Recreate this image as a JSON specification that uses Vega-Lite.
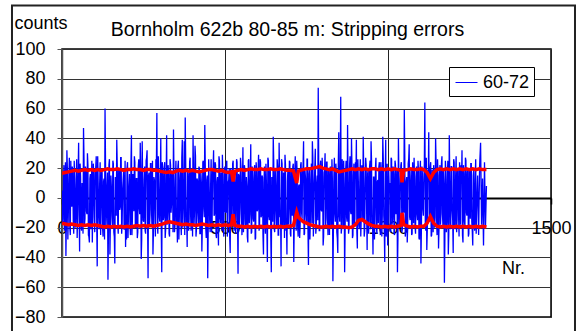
{
  "$schema": "https://vega.github.io/schema/vega-lite/v6.json",
  "autosize": "none",
  "width": 489,
  "height": 268,
  "padding": {"left": 62, "top": 49, "right": 26, "bottom": 14},
  "background": "white",
  "title": {"text": "Bornholm 622b 80-85 m: Stripping errors", "anchor": "middle", "frame": "group", "dx": -19, "offset": -23, "dy": 28, "baseline": "alphabetic", "fontSize": 19.5, "font": "Liberation Sans", "fontWeight": "normal", "color": "black"},
  "config": {
    "font": "Liberation Sans",
    "view": {"stroke": "black", "strokeWidth": 1.5},
    "axis": {"labelFont": "Liberation Sans", "titleFont": "Liberation Sans", "labelFontSize": 18, "titleFontSize": 18, "labelColor": "black", "titleColor": "black", "titleFontWeight": "normal"}
  },
  "datasets": {
    "blue": [
{"n":0,"v":5},{"n":3,"v":-14},{"n":6,"v":22},{"n":9,"v":-8},{"n":12,"v":-39},{"n":15,"v":32},{"n":18,"v":-28},{"n":21,"v":12},{"n":24,"v":-20},{"n":27,"v":25},
{"n":30,"v":-6},{"n":33,"v":18},{"n":36,"v":-24},{"n":39,"v":9},{"n":42,"v":-16},{"n":45,"v":26},{"n":48,"v":-11},{"n":51,"v":37},{"n":54,"v":-36},{"n":57,"v":14},
{"n":60,"v":-22},{"n":63,"v":7},{"n":66,"v":47},{"n":69,"v":-18},{"n":72,"v":21},{"n":75,"v":-9},{"n":78,"v":30},{"n":81,"v":-25},{"n":84,"v":-30},{"n":87,"v":16},
{"n":90,"v":4},{"n":93,"v":-30},{"n":96,"v":23},{"n":99,"v":-13},{"n":102,"v":19},{"n":105,"v":28},{"n":108,"v":-46},{"n":111,"v":10},{"n":114,"v":-21},{"n":117,"v":24},
{"n":120,"v":-5},{"n":123,"v":17},{"n":126,"v":-26},{"n":129,"v":13},{"n":132,"v":60},{"n":135,"v":-19},{"n":138,"v":8},{"n":141,"v":-55},{"n":144,"v":22},{"n":147,"v":-38},
{"n":150,"v":15},{"n":153,"v":-12},{"n":156,"v":25},{"n":159,"v":-23},{"n":162,"v":-44},{"n":165,"v":11},{"n":168,"v":39},{"n":171,"v":-17},{"n":174,"v":20},{"n":177,"v":-8},
{"n":180,"v":27},{"n":183,"v":-24},{"n":186,"v":6},{"n":189,"v":18},{"n":192,"v":-21},{"n":195,"v":-33},{"n":198,"v":-28},{"n":201,"v":24},{"n":204,"v":-10},{"n":207,"v":16},
{"n":210,"v":-25},{"n":213,"v":42},{"n":216,"v":-14},{"n":219,"v":9},{"n":222,"v":28},{"n":225,"v":-20},{"n":228,"v":13},{"n":231,"v":-27},{"n":234,"v":21},{"n":237,"v":-7},
{"n":240,"v":37},{"n":243,"v":-41},{"n":246,"v":38},{"n":249,"v":-15},{"n":252,"v":12},{"n":255,"v":-22},{"n":258,"v":25},{"n":261,"v":32},{"n":264,"v":-54},{"n":267,"v":17},
{"n":270,"v":-11},{"n":273,"v":23},{"n":276,"v":-19},{"n":279,"v":-38},{"n":282,"v":14},{"n":285,"v":-6},{"n":288,"v":26},{"n":291,"v":57},{"n":294,"v":-24},{"n":297,"v":10},
{"n":300,"v":-16},{"n":303,"v":40},{"n":306,"v":-50},{"n":309,"v":19},{"n":312,"v":-13},{"n":315,"v":24},{"n":318,"v":-21},{"n":321,"v":42},{"n":324,"v":-9},{"n":327,"v":15},
{"n":330,"v":-26},{"n":333,"v":22},{"n":336,"v":-4},{"n":339,"v":18},{"n":342,"v":46},{"n":345,"v":-23},{"n":348,"v":11},{"n":351,"v":-17},{"n":354,"v":-30},{"n":357,"v":25},
{"n":360,"v":-12},{"n":363,"v":20},{"n":366,"v":-25},{"n":369,"v":39},{"n":372,"v":-8},{"n":375,"v":38},{"n":378,"v":54},{"n":381,"v":-19},{"n":384,"v":-33},{"n":387,"v":16},
{"n":390,"v":-14},{"n":393,"v":27},{"n":396,"v":-22},{"n":399,"v":8},{"n":402,"v":42},{"n":405,"v":-18},{"n":408,"v":35},{"n":411,"v":-26},{"n":414,"v":13},{"n":417,"v":-10},
{"n":420,"v":21},{"n":423,"v":-24},{"n":426,"v":17},{"n":429,"v":-36},{"n":432,"v":24},{"n":435,"v":-7},{"n":438,"v":49},{"n":441,"v":-20},{"n":444,"v":12},{"n":447,"v":-54},
{"n":450,"v":26},{"n":453,"v":-15},{"n":456,"v":9},{"n":459,"v":-23},{"n":462,"v":19},{"n":465,"v":32},{"n":468,"v":-11},{"n":471,"v":22},{"n":474,"v":-27},{"n":477,"v":14},
{"n":480,"v":-32},{"n":483,"v":25},{"n":486,"v":-17},{"n":489,"v":7},{"n":492,"v":29},{"n":495,"v":-21},{"n":498,"v":16},{"n":501,"v":-9},{"n":504,"v":23},{"n":507,"v":-26},
{"n":510,"v":11},{"n":513,"v":20},{"n":516,"v":-37},{"n":519,"v":18},{"n":522,"v":-13},{"n":525,"v":25},{"n":528,"v":-22},{"n":531,"v":10},{"n":534,"v":-18},{"n":537,"v":24},
{"n":540,"v":-51},{"n":543,"v":15},{"n":546,"v":-6},{"n":549,"v":21},{"n":552,"v":-25},{"n":555,"v":34},{"n":558,"v":-14},{"n":561,"v":19},{"n":564,"v":-20},{"n":567,"v":8},
{"n":570,"v":-30},{"n":573,"v":26},{"n":576,"v":-11},{"n":579,"v":36},{"n":582,"v":-23},{"n":585,"v":13},{"n":588,"v":-16},{"n":591,"v":22},{"n":594,"v":-27},{"n":597,"v":17},
{"n":600,"v":-8},{"n":603,"v":29},{"n":606,"v":-19},{"n":609,"v":24},{"n":612,"v":-12},{"n":615,"v":14},{"n":618,"v":-38},{"n":621,"v":21},{"n":624,"v":-24},{"n":627,"v":10},
{"n":630,"v":-43},{"n":633,"v":25},{"n":636,"v":-15},{"n":639,"v":18},{"n":642,"v":-50},{"n":645,"v":12},{"n":648,"v":41},{"n":651,"v":-21},{"n":654,"v":20},{"n":657,"v":-9},
{"n":660,"v":26},{"n":663,"v":-25},{"n":666,"v":37},{"n":669,"v":-13},{"n":672,"v":-46},{"n":675,"v":23},{"n":678,"v":-18},{"n":681,"v":15},{"n":684,"v":29},{"n":687,"v":-22},
{"n":690,"v":-38},{"n":693,"v":19},{"n":696,"v":-7},{"n":699,"v":24},{"n":702,"v":-26},{"n":705,"v":11},{"n":708,"v":21},{"n":711,"v":-43},{"n":714,"v":16},{"n":717,"v":-14},
{"n":720,"v":25},{"n":723,"v":-20},{"n":726,"v":8},{"n":729,"v":-27},{"n":732,"v":22},{"n":735,"v":-10},{"n":738,"v":18},{"n":741,"v":38},{"n":744,"v":-24},{"n":747,"v":13},
{"n":750,"v":-17},{"n":753,"v":26},{"n":756,"v":-45},{"n":759,"v":20},{"n":762,"v":-12},{"n":765,"v":23},{"n":768,"v":38},{"n":771,"v":-26},{"n":774,"v":10},{"n":777,"v":33},
{"n":780,"v":-19},{"n":783,"v":15},{"n":786,"v":74},{"n":789,"v":-22},{"n":792,"v":21},{"n":795,"v":-8},{"n":798,"v":27},{"n":801,"v":-32},{"n":804,"v":17},{"n":807,"v":30},
{"n":810,"v":-14},{"n":813,"v":24},{"n":816,"v":-25},{"n":819,"v":9},{"n":822,"v":20},{"n":825,"v":-18},{"n":828,"v":26},{"n":831,"v":-56},{"n":834,"v":14},{"n":837,"v":-11},
{"n":840,"v":23},{"n":843,"v":-23},{"n":846,"v":-37},{"n":849,"v":44},{"n":852,"v":-16},{"n":855,"v":68},{"n":858,"v":-20},{"n":861,"v":12},{"n":864,"v":25},{"n":867,"v":-50},
{"n":870,"v":18},{"n":873,"v":-13},{"n":876,"v":49},{"n":879,"v":-24},{"n":882,"v":21},{"n":885,"v":-9},{"n":888,"v":40},{"n":891,"v":-27},{"n":894,"v":15},{"n":897,"v":-18},
{"n":900,"v":24},{"n":903,"v":39},{"n":906,"v":-34},{"n":909,"v":11},{"n":912,"v":-21},{"n":915,"v":26},{"n":918,"v":-12},{"n":921,"v":17},{"n":924,"v":41},{"n":927,"v":-26},
{"n":930,"v":8},{"n":933,"v":22},{"n":936,"v":-35},{"n":939,"v":19},{"n":942,"v":-15},{"n":945,"v":25},{"n":948,"v":38},{"n":951,"v":-20},{"n":954,"v":-38},{"n":957,"v":14},
{"n":960,"v":-8},{"n":963,"v":27},{"n":966,"v":-24},{"n":969,"v":12},{"n":972,"v":21},{"n":975,"v":-17},{"n":978,"v":24},{"n":981,"v":-26},{"n":984,"v":41},{"n":987,"v":-12},
{"n":990,"v":-43},{"n":993,"v":39},{"n":996,"v":-19},{"n":999,"v":-32},{"n":1002,"v":20},{"n":1005,"v":10},{"n":1008,"v":-23},{"n":1011,"v":26},{"n":1014,"v":-14},{"n":1017,"v":16},
{"n":1020,"v":-25},{"n":1023,"v":22},{"n":1026,"v":-9},{"n":1029,"v":-50},{"n":1032,"v":40},{"n":1035,"v":-18},{"n":1038,"v":13},{"n":1041,"v":24},{"n":1044,"v":-21},{"n":1047,"v":18},
{"n":1050,"v":59},{"n":1053,"v":-26},{"n":1056,"v":11},{"n":1059,"v":-30},{"n":1062,"v":23},{"n":1065,"v":36},{"n":1068,"v":-15},{"n":1071,"v":20},{"n":1074,"v":-24},{"n":1077,"v":9},
{"n":1080,"v":27},{"n":1083,"v":-19},{"n":1086,"v":14},{"n":1089,"v":-11},{"n":1092,"v":25},{"n":1095,"v":-27},{"n":1098,"v":17},{"n":1101,"v":-44},{"n":1104,"v":21},{"n":1107,"v":-8},
{"n":1110,"v":12},{"n":1113,"v":64},{"n":1116,"v":-22},{"n":1119,"v":-35},{"n":1122,"v":19},{"n":1125,"v":44},{"n":1128,"v":-16},{"n":1131,"v":24},{"n":1134,"v":-25},{"n":1137,"v":10},
{"n":1140,"v":22},{"n":1143,"v":-20},{"n":1146,"v":40},{"n":1149,"v":-13},{"n":1152,"v":26},{"n":1155,"v":-34},{"n":1158,"v":15},{"n":1161,"v":-18},{"n":1164,"v":23},{"n":1167,"v":-10},
{"n":1170,"v":19},{"n":1173,"v":-57},{"n":1176,"v":25},{"n":1179,"v":-23},{"n":1182,"v":12},{"n":1185,"v":-38},{"n":1188,"v":42},{"n":1191,"v":-17},{"n":1194,"v":21},{"n":1197,"v":-9},
{"n":1200,"v":-37},{"n":1203,"v":24},{"n":1206,"v":-21},{"n":1209,"v":28},{"n":1212,"v":-14},{"n":1215,"v":18},{"n":1218,"v":-26},{"n":1221,"v":13},{"n":1224,"v":22},{"n":1227,"v":32},
{"n":1230,"v":-30},{"n":1233,"v":16},{"n":1236,"v":-19},{"n":1239,"v":25},{"n":1242,"v":-12},{"n":1245,"v":20},{"n":1248,"v":-24},{"n":1251,"v":8},{"n":1254,"v":23},{"n":1257,"v":-16},
{"n":1260,"v":-32},{"n":1263,"v":19},{"n":1266,"v":-22},{"n":1269,"v":26},{"n":1272,"v":-10},{"n":1275,"v":15},{"n":1278,"v":-25},{"n":1281,"v":21},{"n":1284,"v":37},{"n":1287,"v":-18},
{"n":1290,"v":13},{"n":1293,"v":-32},{"n":1296,"v":24},{"n":1299,"v":-20},{"n":1302,"v":8},
{"n":1.5,"v":-18},{"n":4.5,"v":11},{"n":7.5,"v":-22},{"n":10.5,"v":24},{"n":13.5,"v":-13},{"n":16.5,"v":19},{"n":19.5,"v":-9},{"n":22.5,"v":27},{"n":25.5,"v":-25},{"n":28.5,"v":6},
{"n":31.5,"v":21},{"n":34.5,"v":-15},{"n":37.5,"v":25},{"n":40.5,"v":-20},{"n":43.5,"v":12},{"n":46.5,"v":-27},{"n":49.5,"v":17},{"n":52.5,"v":-8},{"n":55.5,"v":23},{"n":58.5,"v":-19},
{"n":61.5,"v":10},{"n":64.5,"v":-24},{"n":67.5,"v":26},{"n":70.5,"v":-14},{"n":73.5,"v":18},{"n":76.5,"v":-11},{"n":79.5,"v":22},{"n":82.5,"v":-26},{"n":85.5,"v":13},{"n":88.5,"v":-21},
{"n":91.5,"v":25},{"n":94.5,"v":-7},{"n":97.5,"v":16},{"n":100.5,"v":-23},{"n":103.5,"v":20},{"n":106.5,"v":-16},{"n":109.5,"v":28},{"n":112.5,"v":-12},{"n":115.5,"v":9},{"n":118.5,"v":-25},
{"n":121.5,"v":19},{"n":124.5,"v":-20},{"n":127.5,"v":11},{"n":130.5,"v":-28},{"n":133.5,"v":24},{"n":136.5,"v":-10},{"n":139.5,"v":17},{"n":142.5,"v":-22},{"n":145.5,"v":26},{"n":148.5,"v":-15},
{"n":151.5,"v":7},{"n":154.5,"v":-19},{"n":157.5,"v":23},{"n":160.5,"v":-26},{"n":163.5,"v":14},{"n":166.5,"v":-12},{"n":169.5,"v":21},{"n":172.5,"v":-24},{"n":175.5,"v":18},{"n":178.5,"v":-6},
{"n":181.5,"v":27},{"n":184.5,"v":-17},{"n":187.5,"v":12},{"n":190.5,"v":-21},{"n":193.5,"v":25},{"n":196.5,"v":-13},{"n":199.5,"v":20},{"n":202.5,"v":-27},{"n":205.5,"v":8},{"n":208.5,"v":-18},
{"n":211.5,"v":22},{"n":214.5,"v":-25},{"n":217.5,"v":16},{"n":220.5,"v":-9},{"n":223.5,"v":24},{"n":226.5,"v":-20},{"n":229.5,"v":13},{"n":232.5,"v":-23},{"n":235.5,"v":26},{"n":238.5,"v":-11},
{"n":241.5,"v":18},{"n":244.5,"v":-28},{"n":247.5,"v":10},{"n":250.5,"v":-16},{"n":253.5,"v":21},{"n":256.5,"v":-24},{"n":259.5,"v":27},{"n":262.5,"v":-14},{"n":265.5,"v":15},{"n":268.5,"v":-19},
{"n":271.5,"v":23},{"n":274.5,"v":-8},{"n":277.5,"v":25},{"n":280.5,"v":-22},{"n":283.5,"v":12},{"n":286.5,"v":-26},{"n":289.5,"v":19},{"n":292.5,"v":-17},{"n":295.5,"v":28},{"n":298.5,"v":-13},
{"n":301.5,"v":9},{"n":304.5,"v":-21},{"n":307.5,"v":24},{"n":310.5,"v":-15},{"n":313.5,"v":20},{"n":316.5,"v":-27},{"n":319.5,"v":11},{"n":322.5,"v":-18},{"n":325.5,"v":22},{"n":328.5,"v":-24},
{"n":331.5,"v":26},{"n":334.5,"v":-10},{"n":337.5,"v":17},{"n":340.5,"v":-23},{"n":343.5,"v":14},{"n":346.5,"v":-19},{"n":349.5,"v":25},{"n":352.5,"v":-12},{"n":355.5,"v":21},{"n":358.5,"v":-28},
{"n":361.5,"v":13},{"n":364.5,"v":-16},{"n":367.5,"v":27},{"n":370.5,"v":-20},{"n":373.5,"v":8},{"n":376.5,"v":-25},{"n":379.5,"v":23},{"n":382.5,"v":-14},{"n":385.5,"v":18},{"n":388.5,"v":-22},
{"n":391.5,"v":24},{"n":394.5,"v":-11},{"n":397.5,"v":19},{"n":400.5,"v":-26},{"n":403.5,"v":16},{"n":406.5,"v":-9},{"n":409.5,"v":28},{"n":412.5,"v":-21},{"n":415.5,"v":12},{"n":418.5,"v":-17},
{"n":421.5,"v":20},{"n":424.5,"v":-24},{"n":427.5,"v":10},{"n":430.5,"v":-18},{"n":433.5,"v":25},{"n":436.5,"v":-13},{"n":439.5,"v":22},{"n":442.5,"v":-27},{"n":445.5,"v":15},{"n":448.5,"v":-20},
{"n":451.5,"v":7},{"n":454.5,"v":-23},{"n":457.5,"v":26},{"n":460.5,"v":-16},{"n":463.5,"v":19},{"n":466.5,"v":-12},{"n":469.5,"v":24},{"n":472.5,"v":-25},{"n":475.5,"v":11},{"n":478.5,"v":-19},
{"n":481.5,"v":28},{"n":484.5,"v":-14},{"n":487.5,"v":17},{"n":490.5,"v":-22},{"n":493.5,"v":13},{"n":496.5,"v":-26},{"n":499.5,"v":21},{"n":502.5,"v":-10},{"n":505.5,"v":25},{"n":508.5,"v":-18},
{"n":511.5,"v":12},{"n":514.5,"v":-27},{"n":517.5,"v":20},{"n":520.5,"v":-15},{"n":523.5,"v":23},{"n":526.5,"v":-8},{"n":529.5,"v":18},{"n":532.5,"v":-24},{"n":535.5,"v":26},{"n":538.5,"v":-13},
{"n":541.5,"v":16},{"n":544.5,"v":-20},{"n":547.5,"v":27},{"n":550.5,"v":-11},{"n":553.5,"v":9},{"n":556.5,"v":-23},{"n":559.5,"v":22},{"n":562.5,"v":-19},{"n":565.5,"v":14},{"n":568.5,"v":-26},
{"n":571.5,"v":25},{"n":574.5,"v":-17},{"n":577.5,"v":11},{"n":580.5,"v":-24},{"n":583.5,"v":21},{"n":586.5,"v":-14},{"n":589.5,"v":19},{"n":592.5,"v":-28},{"n":595.5,"v":24},{"n":598.5,"v":-9},
{"n":601.5,"v":18},{"n":604.5,"v":-22},{"n":607.5,"v":26},{"n":610.5,"v":-13},{"n":613.5,"v":15},{"n":616.5,"v":-25},{"n":619.5,"v":10},{"n":622.5,"v":-18},{"n":625.5,"v":23},{"n":628.5,"v":-21},
{"n":631.5,"v":27},{"n":634.5,"v":-12},{"n":637.5,"v":20},{"n":640.5,"v":-26},{"n":643.5,"v":14},{"n":646.5,"v":-16},{"n":649.5,"v":24},{"n":652.5,"v":-23},{"n":655.5,"v":8},{"n":658.5,"v":-19},
{"n":661.5,"v":21},{"n":664.5,"v":-25},{"n":667.5,"v":13},{"n":670.5,"v":-10},{"n":673.5,"v":26},{"n":676.5,"v":-20},{"n":679.5,"v":17},{"n":682.5,"v":-27},{"n":685.5,"v":22},{"n":688.5,"v":-15},
{"n":691.5,"v":11},{"n":694.5,"v":-18},{"n":697.5,"v":25},{"n":700.5,"v":-24},{"n":703.5,"v":19},{"n":706.5,"v":-12},{"n":709.5,"v":23},{"n":712.5,"v":-16},{"n":715.5,"v":28},{"n":718.5,"v":-22},
{"n":721.5,"v":15},{"n":724.5,"v":-26},{"n":727.5,"v":9},{"n":730.5,"v":-19},{"n":733.5,"v":24},{"n":736.5,"v":-14},{"n":739.5,"v":21},{"n":742.5,"v":-25},{"n":745.5,"v":18},{"n":748.5,"v":-11},
{"n":751.5,"v":26},{"n":754.5,"v":-21},{"n":757.5,"v":16},{"n":760.5,"v":-28},{"n":763.5,"v":12},{"n":766.5,"v":-17},{"n":769.5,"v":27},{"n":772.5,"v":-13},{"n":775.5,"v":20},{"n":778.5,"v":-24},
{"n":781.5,"v":10},{"n":784.5,"v":-15},{"n":787.5,"v":23},{"n":790.5,"v":-22},{"n":793.5,"v":25},{"n":796.5,"v":-9},{"n":799.5,"v":14},{"n":802.5,"v":-26},{"n":805.5,"v":19},{"n":808.5,"v":-20},
{"n":811.5,"v":24},{"n":814.5,"v":-13},{"n":817.5,"v":18},{"n":820.5,"v":-25},{"n":823.5,"v":21},{"n":826.5,"v":-18},{"n":829.5,"v":11},{"n":832.5,"v":-23},{"n":835.5,"v":27},{"n":838.5,"v":-16},
{"n":841.5,"v":17},{"n":844.5,"v":-27},{"n":847.5,"v":22},{"n":850.5,"v":-12},{"n":853.5,"v":15},{"n":856.5,"v":-24},{"n":859.5,"v":26},{"n":862.5,"v":-19},{"n":865.5,"v":9},{"n":868.5,"v":-21},
{"n":871.5,"v":25},{"n":874.5,"v":-16},{"n":877.5,"v":12},{"n":880.5,"v":-20},{"n":883.5,"v":28},{"n":886.5,"v":-11},{"n":889.5,"v":20},{"n":892.5,"v":-25},{"n":895.5,"v":23},{"n":898.5,"v":-14},
{"n":901.5,"v":13},{"n":904.5,"v":-23},{"n":907.5,"v":26},{"n":910.5,"v":-18},{"n":913.5,"v":10},{"n":916.5,"v":-26},{"n":919.5,"v":22},{"n":922.5,"v":-15},{"n":925.5,"v":19},{"n":928.5,"v":-22},
{"n":931.5,"v":27},{"n":934.5,"v":-9},{"n":937.5,"v":16},{"n":940.5,"v":-24},{"n":943.5,"v":21},{"n":946.5,"v":-21},{"n":949.5,"v":25},{"n":952.5,"v":-13},{"n":955.5,"v":14},{"n":958.5,"v":-28},
{"n":961.5,"v":20},{"n":964.5,"v":-19},{"n":967.5,"v":11},{"n":970.5,"v":-17},{"n":973.5,"v":24},{"n":976.5,"v":-25},{"n":979.5,"v":18},{"n":982.5,"v":-12},{"n":985.5,"v":26},{"n":988.5,"v":-20},
{"n":991.5,"v":15},{"n":994.5,"v":-26},{"n":997.5,"v":23},{"n":1000.5,"v":-14},{"n":1003.5,"v":9},{"n":1006.5,"v":-22},{"n":1009.5,"v":27},{"n":1012.5,"v":-18},{"n":1015.5,"v":21},{"n":1018.5,"v":-24},
{"n":1021.5,"v":25},{"n":1024.5,"v":-11},{"n":1027.5,"v":19},{"n":1030.5,"v":-27},{"n":1033.5,"v":13},{"n":1036.5,"v":-16},{"n":1039.5,"v":22},{"n":1042.5,"v":-23},{"n":1045.5,"v":17},{"n":1048.5,"v":-10},
{"n":1051.5,"v":28},{"n":1054.5,"v":-21},{"n":1057.5,"v":14},{"n":1060.5,"v":-19},{"n":1063.5,"v":26},{"n":1066.5,"v":-13},{"n":1069.5,"v":10},{"n":1072.5,"v":-25},{"n":1075.5,"v":24},{"n":1078.5,"v":-17},
{"n":1081.5,"v":12},{"n":1084.5,"v":-24},{"n":1087.5,"v":21},{"n":1090.5,"v":-15},{"n":1093.5,"v":18},{"n":1096.5,"v":-28},{"n":1099.5,"v":25},{"n":1102.5,"v":-20},{"n":1105.5,"v":16},{"n":1108.5,"v":-12},
{"n":1111.5,"v":23},{"n":1114.5,"v":-18},{"n":1117.5,"v":27},{"n":1120.5,"v":-22},{"n":1123.5,"v":11},{"n":1126.5,"v":-14},{"n":1129.5,"v":20},{"n":1132.5,"v":-26},{"n":1135.5,"v":19},{"n":1138.5,"v":-23},
{"n":1141.5,"v":17},{"n":1144.5,"v":-13},{"n":1147.5,"v":24},{"n":1150.5,"v":-25},{"n":1153.5,"v":15},{"n":1156.5,"v":-20},{"n":1159.5,"v":22},{"n":1162.5,"v":-11},{"n":1165.5,"v":28},{"n":1168.5,"v":-19},
{"n":1171.5,"v":10},{"n":1174.5,"v":-27},{"n":1177.5,"v":18},{"n":1180.5,"v":-16},{"n":1183.5,"v":25},{"n":1186.5,"v":-24},{"n":1189.5,"v":13},{"n":1192.5,"v":-21},{"n":1195.5,"v":21},{"n":1198.5,"v":-15},
{"n":1201.5,"v":26},{"n":1204.5,"v":-20},{"n":1207.5,"v":14},{"n":1210.5,"v":-23},{"n":1213.5,"v":19},{"n":1216.5,"v":-12},{"n":1219.5,"v":24},{"n":1222.5,"v":-18},{"n":1225.5,"v":11},{"n":1228.5,"v":-25},
{"n":1231.5,"v":22},{"n":1234.5,"v":-16},{"n":1237.5,"v":27},{"n":1240.5,"v":-10},{"n":1243.5,"v":17},{"n":1246.5,"v":-26},{"n":1249.5,"v":20},{"n":1252.5,"v":-14},{"n":1255.5,"v":23},{"n":1258.5,"v":-22},
{"n":1261.5,"v":15},{"n":1264.5,"v":-19},{"n":1267.5,"v":12},{"n":1270.5,"v":-24}
    ],
    "red": [
{"n":0,"hi":16.5,"lo":-17},{"n":10,"hi":17,"lo":-17.5},{"n":20,"hi":17.5,"lo":-18},{"n":30,"hi":18,"lo":-17.5},{"n":40,"hi":18.5,"lo":-18},{"n":50,"hi":18,"lo":-18.5},{"n":60,"hi":18.5,"lo":-18},{"n":70,"hi":19,"lo":-18.5},{"n":80,"hi":18.5,"lo":-18},{"n":90,"hi":19,"lo":-18.5},
{"n":100,"hi":18.5,"lo":-18},{"n":110,"hi":19,"lo":-18.5},{"n":120,"hi":18.5,"lo":-19},{"n":130,"hi":19,"lo":-19.5},{"n":140,"hi":19.5,"lo":-19},{"n":150,"hi":19,"lo":-19.5},{"n":160,"hi":19,"lo":-19},{"n":170,"hi":19.5,"lo":-19.5},{"n":180,"hi":19,"lo":-19},{"n":190,"hi":18.5,"lo":-19.5},
{"n":200,"hi":19,"lo":-19},{"n":210,"hi":19,"lo":-19.5},{"n":220,"hi":19.5,"lo":-19},{"n":230,"hi":19,"lo":-18.5},{"n":240,"hi":19,"lo":-19},{"n":250,"hi":18.5,"lo":-18.5},{"n":260,"hi":19,"lo":-19},{"n":270,"hi":19,"lo":-18.5},{"n":280,"hi":18.5,"lo":-19},{"n":290,"hi":18.5,"lo":-18.5},
{"n":300,"hi":18,"lo":-18},{"n":310,"hi":17.5,"lo":-17.5},{"n":320,"hi":17,"lo":-16.5},{"n":330,"hi":17.5,"lo":-16},{"n":340,"hi":17,"lo":-16.5},{"n":350,"hi":18,"lo":-17},{"n":360,"hi":18.5,"lo":-17.5},{"n":370,"hi":18,"lo":-18},{"n":380,"hi":18.5,"lo":-17.5},{"n":390,"hi":18,"lo":-18},
{"n":400,"hi":18.5,"lo":-18},{"n":410,"hi":18,"lo":-18.5},{"n":420,"hi":17.5,"lo":-18},{"n":430,"hi":18,"lo":-17.5},{"n":440,"hi":18.5,"lo":-18},{"n":450,"hi":19,"lo":-18.5},{"n":460,"hi":19,"lo":-18},{"n":470,"hi":18.5,"lo":-18.5},{"n":480,"hi":18,"lo":-18},{"n":490,"hi":18.5,"lo":-18.5},
{"n":500,"hi":17.5,"lo":-18},{"n":510,"hi":17,"lo":-18.5},{"n":520,"hi":17.5,"lo":-18},{"n":525,"hi":11,"lo":-11},{"n":530,"hi":18,"lo":-18.5},{"n":540,"hi":18.5,"lo":-19},{"n":550,"hi":19,"lo":-19},{"n":560,"hi":18.5,"lo":-19.5},{"n":570,"hi":19,"lo":-19},{"n":580,"hi":19.5,"lo":-19.5},
{"n":590,"hi":19,"lo":-19},{"n":600,"hi":19,"lo":-19.5},{"n":610,"hi":19.5,"lo":-19},{"n":620,"hi":19,"lo":-19.5},{"n":630,"hi":19,"lo":-19},{"n":640,"hi":19.5,"lo":-19.5},{"n":650,"hi":19,"lo":-19},{"n":660,"hi":19,"lo":-19.5},{"n":670,"hi":19.5,"lo":-19},{"n":680,"hi":19,"lo":-19.5},
{"n":690,"hi":18.5,"lo":-19},{"n":700,"hi":18.5,"lo":-19},{"n":710,"hi":18,"lo":-18.5},{"n":720,"hi":10,"lo":-9.5},{"n":725,"hi":18,"lo":-13},{"n":730,"hi":18.5,"lo":-14},{"n":740,"hi":19,"lo":-16},{"n":750,"hi":19.5,"lo":-17},{"n":760,"hi":19.5,"lo":-18},{"n":770,"hi":20,"lo":-18.5},
{"n":780,"hi":20.5,"lo":-19},{"n":790,"hi":21,"lo":-19.5},{"n":800,"hi":20,"lo":-19.5},{"n":810,"hi":19.5,"lo":-19},{"n":820,"hi":19,"lo":-19.5},{"n":830,"hi":19.5,"lo":-19},{"n":840,"hi":18.5,"lo":-19.5},{"n":850,"hi":17.5,"lo":-19},{"n":860,"hi":18,"lo":-19.5},{"n":870,"hi":18.5,"lo":-19.5},
{"n":880,"hi":19,"lo":-20},{"n":890,"hi":19.5,"lo":-19.5},{"n":900,"hi":19,"lo":-18},{"n":910,"hi":19.5,"lo":-15},{"n":920,"hi":19,"lo":-14.5},{"n":930,"hi":19.5,"lo":-16},{"n":940,"hi":19,"lo":-17.5},{"n":950,"hi":19.5,"lo":-18.5},{"n":960,"hi":19.5,"lo":-19},{"n":970,"hi":19,"lo":-19},
{"n":980,"hi":19.5,"lo":-19.5},{"n":990,"hi":19,"lo":-19},{"n":1000,"hi":19.5,"lo":-19.5},{"n":1010,"hi":19,"lo":-19},{"n":1020,"hi":19.5,"lo":-19.5},{"n":1030,"hi":19,"lo":-19},{"n":1040,"hi":18.5,"lo":-18.5},{"n":1043,"hi":10.5,"lo":-10},{"n":1048,"hi":18.5,"lo":-18},{"n":1060,"hi":19,"lo":-19},
{"n":1070,"hi":19.5,"lo":-19.5},{"n":1080,"hi":19,"lo":-19},{"n":1090,"hi":19,"lo":-19.5},{"n":1100,"hi":19.5,"lo":-19},{"n":1110,"hi":19,"lo":-19},{"n":1120,"hi":17,"lo":-17},{"n":1130,"hi":13,"lo":-12.5},{"n":1140,"hi":17,"lo":-17},{"n":1150,"hi":19,"lo":-19},{"n":1160,"hi":19.5,"lo":-19.5},
{"n":1170,"hi":19,"lo":-19},{"n":1180,"hi":19.5,"lo":-19.5},{"n":1190,"hi":19,"lo":-19},{"n":1200,"hi":19.5,"lo":-19.5},{"n":1210,"hi":19,"lo":-19},{"n":1220,"hi":19.5,"lo":-19.5},{"n":1230,"hi":19,"lo":-19},{"n":1240,"hi":19.5,"lo":-19.5},{"n":1250,"hi":19,"lo":-19},{"n":1260,"hi":19.5,"lo":-19.5},
{"n":1270,"hi":19,"lo":-19},{"n":1280,"hi":19.5,"lo":-19.5},{"n":1290,"hi":19,"lo":-19},{"n":1302,"hi":19,"lo":-19.5}
    ],
    "frame": [{"n": -153.4, "n2": 1573.6, "v": 129.2, "v2": -95}]
  },
  "encoding": {
    "x": {"field": "n", "type": "quantitative", "scale": {"domain": [0, 1500], "nice": false, "zero": false},
      "axis": {"values": [0, 500, 1000, 1500], "format": "d", "offset": -119, "grid": true, "gridColor": "#222222", "gridWidth": 1, "gridOpacity": 1,
        "domainColor": "black", "domainWidth": 2, "tickColor": "black", "tickSize": 6, "tickWidth": 1.5,
        "labelPadding": 29, "labelBaseline": "alphabetic", "labelFlush": false, "labelOverlap": false, "labelAlign": "center",
        "title": "Nr.", "titleX": 451, "titleY": 75, "titleAlign": "center", "titleBaseline": "alphabetic"}},
    "y": {"field": "v", "type": "quantitative", "scale": {"domain": [-80, 100], "nice": false, "zero": false},
      "axis": {"values": [-80, -60, -40, -20, 0, 20, 40, 60, 80, 100], "tickCount": 10, "format": "d", "grid": true, "gridColor": "#333333", "gridWidth": 1, "gridOpacity": 1,
        "domainColor": "#555555", "domainWidth": 1.5, "tickColor": "#555555", "tickSize": 5, "tickWidth": 1,
        "labelPadding": 12, "labelFlush": false, "labelOverlap": false,
        "title": "counts", "titleAngle": 0, "titleX": -48, "titleY": -21, "titleAlign": "left", "titleBaseline": "alphabetic"}}
  },
  "layer": [
    {
      "data": {"name": "blue"},
      "mark": {"type": "line", "strokeWidth": 1.3, "clip": true},
      "encoding": {
        "color": {"datum": "60-72", "type": "nominal", "scale": {"range": ["#0000ff"]},
          "legend": {"title": null, "orient": "none", "legendX": 387, "legendY": 18, "strokeColor": "black", "fillColor": "white",
            "padding": 4, "symbolType": "stroke", "symbolSize": 484, "symbolStrokeWidth": 1, "labelFontSize": 18, "labelFont": "Liberation Sans", "labelColor": "black", "labelOffset": 5, "symbolOffset": 2}}
      }
    },
    {
      "data": {"name": "red"},
      "transform": [{"fold": ["hi", "lo"], "as": ["s", "v"]}],
      "mark": {"type": "line", "color": "#ff0000", "strokeWidth": 3.5, "clip": true},
      "encoding": {"detail": {"field": "s", "type": "nominal"}}
    },
    {
      "data": {"name": "frame"},
      "mark": {"type": "rect", "fill": null, "fillOpacity": 0, "stroke": "#222222", "strokeWidth": 2, "clip": false},
      "encoding": {"x2": {"field": "n2"}, "y2": {"field": "v2"}}
    }
  ]
}
